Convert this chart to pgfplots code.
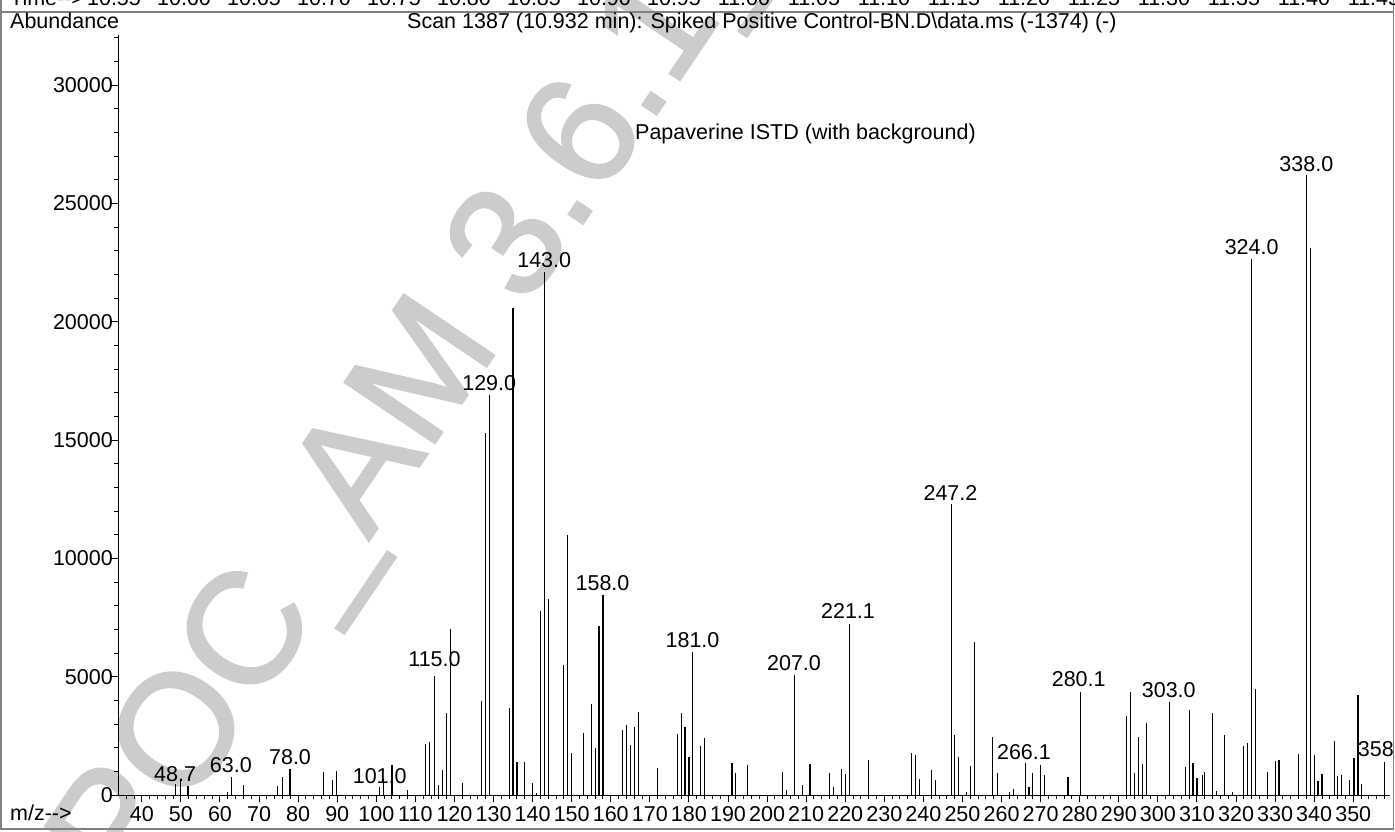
\documentclass[border=0pt]{standalone}
\usepackage{pgfplots}
\pgfplotsset{compat=1.18}
\usepackage{fontspec}
\setmainfont{Liberation Sans}[Ligatures=TeXOff]
\newfontfamily\wmfont{Liberation Sans}[FakeBold=1.5]
\definecolor{wm}{RGB}{204,204,204}
\definecolor{framegray}{RGB}{128,128,128}

\begin{document}
\begin{tikzpicture}[font=\fontsize{21.5}{24}\selectfont]
\path[use as bounding box] (0pt,0pt) rectangle (1395pt,-831pt);
\clip (0pt,0pt) rectangle (1395pt,-831pt);

% watermark
\node[font=\wmfont\fontsize{158}{158}\selectfont, text=wm, rotate=56,
      anchor=base west, inner sep=0] at (128pt,-898pt) {POC\_AM 3.6.1\_};

% frame and header row
\draw[framegray, line width=1.5pt] (0.75pt,-12pt) -- (1393.5pt,-12pt);
\draw[framegray, line width=1.5pt] (0.75pt,0pt) -- (0.75pt,-829pt) -- (1393.5pt,-829pt) -- (1393.5pt,0pt);
\node[anchor=base west, inner sep=0] at (10pt,-5.5pt) {Time-->};
\foreach \t [count=\i from 0] in {10.55,10.60,10.65,10.70,10.75,10.80,10.85,10.90,10.95,11.00,11.05,11.10,11.15,11.20,11.25,11.30,11.35,11.40,11.45}
  \node[anchor=base, inner sep=0] at ({(114+70*\i)*1pt},-5.5pt) {\t};

\node[anchor=base west, inner sep=0] at (10pt,-28pt) {Abundance};
\node[anchor=base west, inner sep=0] at (407pt,-28pt) {Scan 1387 (10.932 min): Spiked Positive Control-BN.D\textbackslash data.ms (-1374) (-)};
\node[anchor=base west, inner sep=0] at (10pt,-820pt) {m/z-->};

\begin{axis}[
  at={(118pt,-795pt)}, anchor=south west,
  scale only axis, width=1272pt, height=760pt,
  xmin=33.9, xmax=359.4, ymin=0, ymax=32122,
  axis x line=bottom, axis y line=left,
  axis line style={-, line width=1pt},
  tick align=outside,
  xtick={40,50,...,350},
  minor xtick={36,38,...,358},
  ytick={0,5000,...,30000},
  minor ytick={1000,2000,...,32000},
  major tick length=7pt, minor tick length=4pt,
  tick style={line width=1pt, black},
  scaled y ticks=false,
  /pgf/number format/assume math mode=true,
  yticklabel style={/pgf/number format/1000 sep={}, xshift=2pt},
  xticklabel style={yshift=-4pt},
  tick label style={font=\fontsize{21.5}{24}\selectfont, inner sep=0pt},
  clip=false,
]
\addplot[ycomb, black, line width=1.2pt, mark=none] coordinates {
(48.7,465)(49.8,634)(51.8,380)(62.0,127)(63.0,775)(66.0,437)(74.8,380)(76.0,775)
(77.9,1113)(86.4,958)(88.8,648)(89.9,1000)(100.8,324)(101.9,662)(104.0,1268)(107.9,211)
(112.6,2142)(113.7,2240)(114.8,5030)(115.9,423)(116.9,1070)(118.0,3452)(119.0,7000)
(122.0,521)(127.0,3973)(128.0,15300)(129.0,16900)(134.0,3677)(135.0,20580)(136.0,1395)
(138.0,1395)(140.0,493)(141.0,85)(142.0,7790)(143.0,22118)(144.0,8271)(148.0,5494)
(149.0,11003)(150.0,1775)(153.0,2634)(155.0,3860)(156.0,1986)(157.0,7157)(158.0,8453)
(163.0,2733)(164.0,2958)(165.0,2127)(166.0,2874)(167.0,3508)(172.0,1141)(177.0,2578)
(178.0,3466)(179.0,2874)(180.0,1606)(181.0,6044)(183.0,2071)(184.0,2395)(191.0,1338)
(192.0,944)(195.0,1254)(204.0,986)(205.0,197)(207.0,5072)(209.0,409)(211.0,1296)
(216.0,944)(217.0,352)(219.0,1113)(220.0,887)(221.1,7227)(226.0,1479)(237.0,1789)
(238.0,1705)(239.0,662)(242.0,1070)(243.0,648)(247.2,12299)(248.0,2536)(249.0,1606)
(251.0,127)(252.0,1212)(253.0,6452)(257.6,2465)(259.0,916)(262.0,127)(263.0,240)
(266.1,1338)(267.0,352)(268.0,916)(270.0,1268)(271.0,845)(277.0,775)(280.1,4368)
(292.0,3339)(293.0,4368)(294.0,916)(295.0,2451)(296.0,1310)(297.0,3043)(303.0,3944)
(307.0,1169)(308.0,3593)(309.0,1338)(310.0,718)(311.4,845)(312.0,972)(314.0,3466)
(315.0,169)(317.0,2522)(319.0,113)(322.0,2071)(323.0,2212)(324.0,22650)(325.0,4467)
(328.0,958)(330.0,1423)(331.0,1493)(336.0,1718)(338.0,26200)(339.0,23110)(340.0,1676)
(341.0,577)(342.0,902)(345.2,2268)(346.0,789)(347.0,831)(349.0,634)(350.2,1578)
(351.2,4213)(352.2,479)(358.0,1409)
};

% peak labels
\node[anchor=base, inner sep=0] at (axis cs:48.5,592) {48.7};
\node[anchor=base, inner sep=0] at (axis cs:62.77,942) {63.0};
\node[anchor=base, inner sep=0] at (axis cs:77.92,1310) {78.0};
\node[anchor=base, inner sep=0] at (axis cs:100.87,507) {101.0};
\node[anchor=base, inner sep=0] at (axis cs:114.9,5423) {115.0};
\node[anchor=base, inner sep=0] at (axis cs:128.89,17088) {129.0};
\node[anchor=base, inner sep=0] at (axis cs:142.97,22303) {143.0};
\node[anchor=base, inner sep=0] at (axis cs:157.89,8652) {158.0};
\node[anchor=base, inner sep=0] at (axis cs:180.92,6243) {181.0};
\node[anchor=base, inner sep=0] at (axis cs:206.89,5283) {207.0};
\node[anchor=base, inner sep=0] at (axis cs:220.71,7452) {221.1};
\node[anchor=base, inner sep=0] at (axis cs:246.93,12468) {247.2};
\node[anchor=base, inner sep=0] at (axis cs:265.74,1522) {266.1};
\node[anchor=base, inner sep=0] at (axis cs:279.74,4577) {280.1};
\node[anchor=base, inner sep=0] at (axis cs:302.79,4129) {303.0};
\node[anchor=base, inner sep=0] at (axis cs:324.0,22866) {324.0};
\node[anchor=base, inner sep=0] at (axis cs:338.0,26356) {338.0};
\node[anchor=base west, inner sep=0] at (axis cs:351.13,1619) {358};
\node[anchor=base west, inner sep=0] at (axis cs:166.2,27720) {Papaverine ISTD (with background)};
\end{axis}
\end{tikzpicture}
\end{document}
